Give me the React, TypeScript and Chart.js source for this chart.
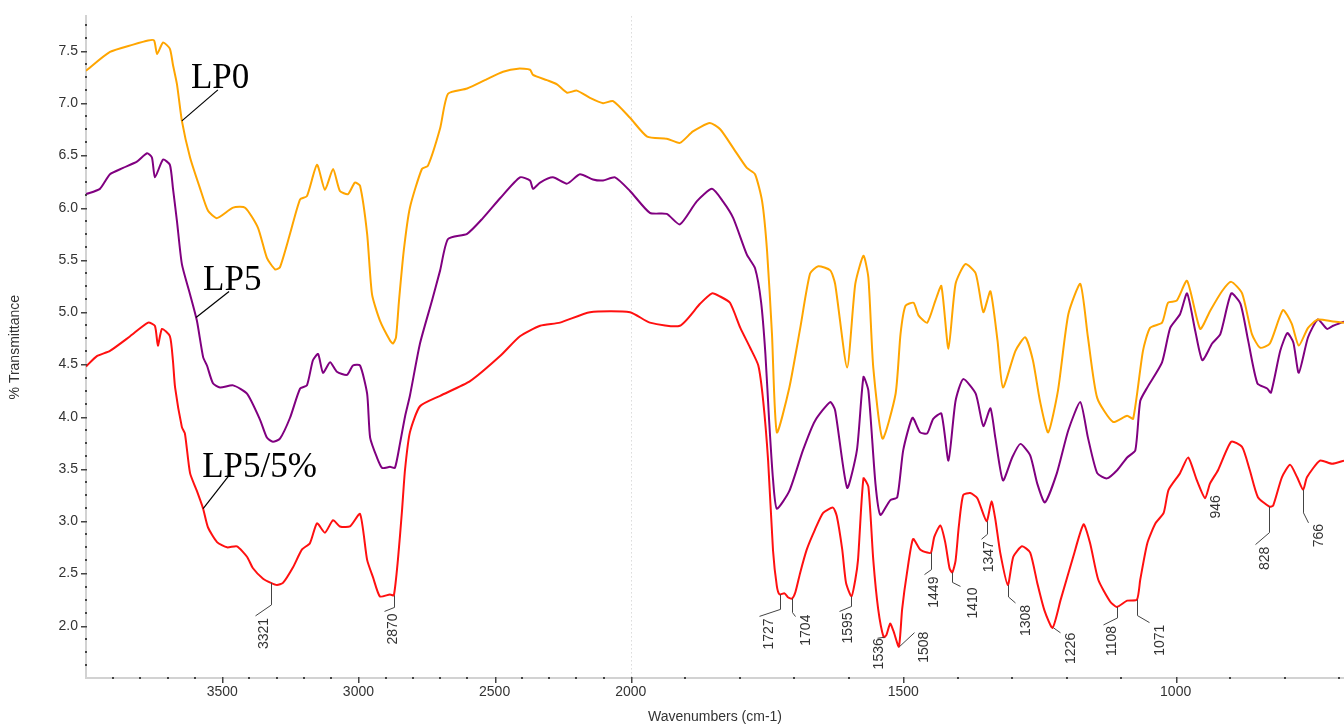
import React, { useEffect, useRef } from 'react';
import {
  Chart,
  LinearScale,
  LineController,
  LineElement,
  PointElement,
} from 'chart.js';

// ---- FTIR spectra: wavenumber (cm-1) and % transmittance (offset traces) ----
const lp0Wn = [4000, 3912, 3827, 3772, 3750, 3739, 3717, 3692, 3681, 3666, 3648, 3618, 3582, 3552, 3519, 3460, 3416, 3369, 3336, 3306, 3288, 3251, 3214, 3189, 3152, 3123, 3093, 3068, 3038, 3013, 2994, 2968, 2950, 2921, 2884, 2873, 2862, 2851, 2833, 2811, 2767, 2745, 2700, 2671, 2601, 2528, 2469, 2414, 2370, 2359, 2308, 2271, 2234, 2198, 2150, 2102, 2065, 2003, 1970, 1934, 1910, 1886, 1855, 1836, 1812, 1787, 1772, 1759, 1750, 1741, 1732, 1709, 1689, 1671, 1656, 1634, 1625, 1603, 1588, 1573, 1564, 1555, 1538, 1514, 1505, 1496, 1481, 1472, 1456, 1441, 1430, 1417, 1404, 1386, 1367, 1353, 1340, 1327, 1317, 1294, 1276, 1262, 1249, 1234, 1216, 1197, 1175, 1161, 1144, 1115, 1089, 1078, 1060, 1047, 1025, 1014, 998, 979, 955, 937, 915, 898, 878, 860, 845, 827, 803, 787, 774, 757, 739, 711, 691];
const lp0T = [7.31, 7.49, 7.56, 7.6, 7.6, 7.47, 7.58, 7.52, 7.37, 7.18, 6.83, 6.48, 6.19, 5.97, 5.9, 6.0, 6.0, 5.81, 5.52, 5.41, 5.43, 5.75, 6.08, 6.11, 6.41, 6.17, 6.37, 6.16, 6.13, 6.24, 6.21, 5.75, 5.17, 4.92, 4.73, 4.7, 4.76, 5.11, 5.6, 6.0, 6.37, 6.4, 6.76, 7.09, 7.14, 7.23, 7.3, 7.33, 7.32, 7.27, 7.22, 7.18, 7.1, 7.12, 7.05, 7.0, 7.02, 6.86, 6.68, 6.66, 6.62, 6.73, 6.81, 6.75, 6.57, 6.38, 6.32, 6.06, 5.59, 4.8, 3.85, 4.28, 4.85, 5.37, 5.44, 5.4, 5.27, 4.47, 5.27, 5.54, 5.33, 4.47, 3.79, 4.22, 4.79, 5.06, 5.09, 4.97, 4.9, 5.11, 5.25, 4.65, 5.27, 5.46, 5.37, 5.0, 5.2, 4.73, 4.28, 4.63, 4.76, 4.54, 4.15, 3.85, 4.25, 4.98, 5.27, 4.76, 4.18, 3.95, 4.01, 3.98, 4.63, 4.85, 4.9, 5.09, 5.11, 5.3, 4.84, 5.01, 5.2, 5.29, 5.18, 4.79, 4.66, 4.7, 5.02, 4.89, 4.68, 4.85, 4.93, 4.91, 4.9];

const lp5Wn = [4000, 3949, 3912, 3864, 3813, 3776, 3758, 3747, 3717, 3692, 3681, 3666, 3648, 3618, 3593, 3570, 3556, 3534, 3508, 3460, 3409, 3361, 3336, 3314, 3288, 3251, 3214, 3189, 3167, 3148, 3130, 3104, 3079, 3042, 3020, 2994, 2968, 2957, 2932, 2913, 2884, 2866, 2847, 2829, 2811, 2774, 2730, 2700, 2671, 2601, 2543, 2480, 2407, 2370, 2359, 2333, 2286, 2234, 2187, 2139, 2102, 2058, 2003, 1965, 1934, 1910, 1879, 1851, 1831, 1812, 1787, 1772, 1761, 1753, 1746, 1739, 1732, 1709, 1684, 1662, 1634, 1625, 1603, 1585, 1573, 1564, 1551, 1542, 1524, 1511, 1500, 1483, 1469, 1456, 1445, 1430, 1417, 1404, 1390, 1367, 1353, 1340, 1331, 1317, 1300, 1285, 1267, 1254, 1240, 1218, 1197, 1175, 1161, 1144, 1126, 1107, 1089, 1074, 1065, 1052, 1025, 1010, 992, 979, 964, 951, 933, 918, 898, 881, 867, 850, 832, 825, 808, 795, 784, 774, 757, 739, 722, 711, 691];
const lp5T = [6.13, 6.18, 6.32, 6.38, 6.44, 6.52, 6.48, 6.29, 6.46, 6.41, 6.19, 5.87, 5.46, 5.17, 4.92, 4.57, 4.49, 4.32, 4.28, 4.3, 4.22, 3.97, 3.8, 3.76, 3.79, 3.99, 4.27, 4.3, 4.54, 4.6, 4.42, 4.52, 4.43, 4.4, 4.49, 4.49, 4.22, 3.8, 3.61, 3.51, 3.52, 3.51, 3.75, 4.0, 4.2, 4.7, 5.11, 5.4, 5.7, 5.75, 5.9, 6.09, 6.29, 6.26, 6.18, 6.24, 6.29, 6.23, 6.32, 6.27, 6.26, 6.29, 6.16, 5.95, 5.94, 5.84, 6.06, 6.18, 6.06, 5.9, 5.55, 5.42, 5.1, 4.6, 3.95, 3.4, 3.12, 3.29, 3.68, 3.96, 4.14, 4.06, 3.32, 3.68, 4.38, 4.25, 3.36, 3.06, 3.2, 3.23, 3.68, 3.99, 3.85, 3.84, 3.98, 4.03, 3.58, 4.15, 4.36, 4.22, 3.91, 4.08, 3.8, 3.39, 3.61, 3.74, 3.63, 3.36, 3.18, 3.46, 3.87, 4.14, 3.8, 3.46, 3.41, 3.49, 3.61, 3.68, 4.15, 4.28, 4.52, 4.85, 4.98, 5.18, 4.82, 4.54, 4.7, 4.79, 5.18, 5.08, 4.73, 4.32, 4.27, 4.23, 4.63, 4.8, 4.71, 4.42, 4.76, 4.93, 4.84, 4.87, 4.91];

const lp55Wn = [4000, 3960, 3912, 3838, 3772, 3747, 3736, 3721, 3692, 3681, 3673, 3648, 3637, 3618, 3593, 3570, 3552, 3519, 3482, 3446, 3409, 3387, 3350, 3321, 3299, 3277, 3240, 3207, 3178, 3152, 3123, 3093, 3068, 3031, 2994, 2968, 2946, 2921, 2884, 2870, 2855, 2840, 2829, 2811, 2774, 2700, 2590, 2480, 2407, 2333, 2260, 2150, 2003, 1965, 1910, 1873, 1851, 1836, 1818, 1799, 1781, 1766, 1757, 1748, 1739, 1732, 1727, 1718, 1711, 1704, 1698, 1689, 1677, 1662, 1647, 1629, 1622, 1612, 1605, 1595, 1588, 1583, 1573, 1564, 1555, 1546, 1536, 1531, 1524, 1518, 1508, 1502, 1493, 1482, 1469, 1456, 1449, 1443, 1432, 1423, 1415, 1410, 1404, 1398, 1390, 1377, 1364, 1347, 1338, 1331, 1322, 1308, 1298, 1282, 1267, 1254, 1241, 1226, 1211, 1188, 1169, 1157, 1142, 1120, 1108, 1089, 1071, 1065, 1052, 1037, 1022, 1013, 992, 977, 961, 946, 937, 922, 898, 878, 864, 849, 828, 821, 805, 790, 777, 766, 759, 735, 713, 691];
const lp55T = [4.48, 4.58, 4.63, 4.77, 4.9, 4.87, 4.68, 4.84, 4.77, 4.54, 4.28, 3.9, 3.84, 3.46, 3.29, 3.12, 2.94, 2.8, 2.75, 2.76, 2.66, 2.55, 2.45, 2.41, 2.39, 2.41, 2.56, 2.73, 2.79, 2.98, 2.89, 3.01, 2.95, 2.95, 3.07, 2.63, 2.46, 2.28, 2.3, 2.29, 2.63, 3.1, 3.49, 3.85, 4.1, 4.2, 4.34, 4.58, 4.77, 4.87, 4.9, 5.0, 5.0, 4.9, 4.87, 5.08, 5.18, 5.15, 5.09, 4.85, 4.66, 4.49, 4.15, 3.58, 2.72, 2.38, 2.3, 2.31, 2.27, 2.26, 2.32, 2.51, 2.73, 2.92, 3.08, 3.13, 3.05, 2.73, 2.41, 2.28, 2.44, 2.63, 3.41, 3.33, 2.63, 2.16, 1.89, 1.91, 2.02, 1.95, 1.8, 2.16, 2.51, 2.83, 2.73, 2.7, 2.7, 2.85, 2.96, 2.8, 2.55, 2.51, 2.62, 2.95, 3.25, 3.27, 3.22, 3.0, 3.19, 3.02, 2.7, 2.39, 2.66, 2.76, 2.7, 2.41, 2.15, 1.98, 2.25, 2.66, 2.97, 2.79, 2.44, 2.23, 2.18, 2.24, 2.25, 2.44, 2.79, 2.98, 3.08, 3.3, 3.46, 3.61, 3.39, 3.22, 3.36, 3.49, 3.76, 3.71, 3.49, 3.23, 3.14, 3.15, 3.42, 3.54, 3.42, 3.3, 3.42, 3.58, 3.55, 3.58];

const seriesNames = ['LP0', 'LP5', 'LP5/5%'];
const seriesLabelWn = [3648, 3596, 3570];
const peakWn = [3321, 2870, 1727, 1704, 1595, 1536, 1508, 1449, 1410, 1347, 1308, 1226, 1108, 1071, 946, 828, 766];

const xMajorTicks = [3500, 3000, 2500, 2000, 1500, 1000];
const yMajorTicks = [2.0, 2.5, 3.0, 3.5, 4.0, 4.5, 5.0, 5.5, 6.0, 6.5, 7.0, 7.5];
const xRange = [691, 4000];
const yRange = [1.5, 7.83];

// ---- styling ----
const colors = ['#FFA500', '#800080', '#FF1010'];
const SANS = '"Liberation Sans", Arial, sans-serif';
const SERIF = '"Liberation Serif", "Times New Roman", serif';
const INK = '#333333';

// pixel layout of the name callouts: leader end (lx, ly) and text origin (tx, ty) relative to the curve point
const nameLayout = [
  { lx: 36, ly: -31, tx: 9, ty: -33 },
  { lx: 33, ly: -26, tx: 7, ty: -27 },
  { lx: 25, ly: -32, tx: -1, ty: -32 },
];
// pixel layout of the band labels: vertical drop v, elbow end d, text centre/top t
const peakLayout = [
  { v: 22, d: [-16, 33], t: [-7, 35] },
  { v: 12, d: [-10, 16], t: [-1, 18] },
  { v: 15, d: [-21, 22], t: [-11, 24] },
  { v: 14, d: [3, 18], t: [14, 16] },
  { v: 10, d: [-12, 15], t: [-3, 16] },
  { v: 0, d: [-7, 1], t: [-5, 1] },
  { v: 0, d: [15, -14], t: [25, -15] },
  { v: 17, d: [-7, 22], t: [3, 24] },
  { v: 10, d: [8, 14], t: [21, 15] },
  { v: 13, d: [-6, 18], t: [2, 20] },
  { v: 12, d: [7, 18], t: [18, 20] },
  { v: 0, d: [7, 5], t: [18, 5] },
  { v: 11, d: [-14, 18], t: [-5, 19] },
  { v: 16, d: [12, 23], t: [23, 25] },
  null,
  { v: 26, d: [-14, 38], t: [-4, 40] },
  { v: 23, d: [5, 33], t: [16, 34] },
];
const peakTextShift946 = [11, -3];

// Wavenumber axis with the region below 2000 cm-1 drawn at twice the scale.
const BREAK_WN = 2000;
const LOW_EXPANSION = 2;

class SplitWavenumberScale extends LinearScale {
  static id = 'splitWavenumber';
  static defaults = LinearScale.defaults;
  warp(v: number) {
    return v >= BREAK_WN ? v - BREAK_WN : LOW_EXPANSION * (v - BREAK_WN);
  }
  unwarp(u: number) {
    return u >= 0 ? u + BREAK_WN : u / LOW_EXPANSION + BREAK_WN;
  }
  getPixelForValue(value: number) {
    const hi = this.warp(this.max);
    const lo = this.warp(this.min);
    return this.left + ((hi - this.warp(value)) / (hi - lo)) * this.width;
  }
  getValueForPixel(pixel: number) {
    const hi = this.warp(this.max);
    const lo = this.warp(this.min);
    return this.unwarp(hi - ((pixel - this.left) / this.width) * (hi - lo));
  }
}

Chart.register(LineController, LineElement, PointElement, LinearScale, SplitWavenumberScale);

function valueAt(wns: number[], vals: number[], wn: number) {
  for (let i = 0; i < wns.length - 1; i++) {
    const a = wns[i];
    const b = wns[i + 1];
    if ((wn <= a && wn >= b) || (wn >= a && wn <= b)) {
      const f = a === b ? 0 : (wn - a) / (b - a);
      return vals[i] + f * (vals[i + 1] - vals[i]);
    }
  }
  return vals[vals.length - 1];
}

const spectra = [
  { wn: lp0Wn, t: lp0T },
  { wn: lp5Wn, t: lp5T },
  { wn: lp55Wn, t: lp55T },
];

const axisDecor = {
  id: 'axisDecor',
  beforeDatasetsDraw(chart: any) {
    const { ctx, chartArea, scales } = chart;
    const x = Math.round(scales.x.getPixelForValue(BREAK_WN)) + 0.5;
    ctx.save();
    ctx.strokeStyle = '#c8c8c8';
    ctx.lineWidth = 1;
    ctx.setLineDash([1, 3]);
    ctx.beginPath();
    ctx.moveTo(x, chartArea.top);
    ctx.lineTo(x, chartArea.bottom);
    ctx.stroke();
    ctx.restore();
  },
  afterDraw(chart: any) {
    const { ctx, chartArea, scales } = chart;
    const xs = scales.x;
    const ys = scales.y;
    ctx.save();
    ctx.fillStyle = '#444';
    // x minor dots every 100 cm-1, major marks at labelled ticks
    for (let w = 3900; w >= 700; w -= 100) {
      const px = Math.round(xs.getPixelForValue(w));
      if (xMajorTicks.includes(w)) {
        ctx.fillRect(px, chartArea.bottom - 1, 1.5, 6);
      } else {
        ctx.fillRect(px - 1, chartArea.bottom - 1, 2, 2);
      }
    }
    // y minor dots every 0.125, major dashes at labelled ticks
    for (let v = 1.625; v <= yRange[1]; v += 0.125) {
      const py = Math.round(ys.getPixelForValue(v));
      const isMajor = yMajorTicks.some((m) => Math.abs(m - v) < 1e-6);
      if (isMajor) {
        ctx.fillRect(chartArea.left - 5, py, 6, 1.5);
      } else {
        ctx.fillRect(chartArea.left - 1, py - 1, 2, 2);
      }
    }
    ctx.restore();
  },
};

const callouts = {
  id: 'callouts',
  afterDatasetsDraw(chart: any) {
    const { ctx, scales } = chart;
    const xs = scales.x;
    const ys = scales.y;
    ctx.save();

    // series names with leader lines
    ctx.strokeStyle = '#000';
    ctx.fillStyle = '#000';
    ctx.lineWidth = 1.2;
    ctx.font = `35px ${SERIF}`;
    ctx.textAlign = 'left';
    ctx.textBaseline = 'alphabetic';
    seriesNames.forEach((name, i) => {
      const s = spectra[i];
      const ax = xs.getPixelForValue(seriesLabelWn[i]);
      const ay = ys.getPixelForValue(valueAt(s.wn, s.t, seriesLabelWn[i]));
      const L = nameLayout[i];
      ctx.beginPath();
      ctx.moveTo(ax, ay);
      ctx.lineTo(ax + L.lx, ay + L.ly);
      ctx.stroke();
      ctx.fillText(name, ax + L.tx, ay + L.ty);
    });

    // band positions on the LP5/5% trace
    const red = spectra[2];
    ctx.strokeStyle = '#444';
    ctx.fillStyle = INK;
    ctx.lineWidth = 1;
    ctx.font = `14px ${SANS}`;
    peakWn.forEach((wn, i) => {
      const ax = Math.round(xs.getPixelForValue(wn)) + 0.5;
      const ay = ys.getPixelForValue(valueAt(red.wn, red.t, wn));
      const L = peakLayout[i];
      let tx: number;
      let ty: number;
      if (L) {
        ctx.beginPath();
        ctx.moveTo(ax, ay);
        ctx.lineTo(ax, ay + L.v);
        ctx.lineTo(ax + L.d[0], ay + L.d[1]);
        ctx.stroke();
        tx = ax + L.t[0];
        ty = ay + L.t[1];
      } else {
        tx = ax + peakTextShift946[0];
        ty = ay + peakTextShift946[1];
      }
      ctx.save();
      ctx.translate(tx, ty);
      ctx.rotate(-Math.PI / 2);
      ctx.textAlign = 'right';
      ctx.textBaseline = 'middle';
      ctx.fillText(String(wn), 0, 0);
      ctx.restore();
    });
    ctx.restore();
  },
};

export default function App() {
  const canvasRef = useRef<HTMLCanvasElement | null>(null);

  useEffect(() => {
    const canvas = canvasRef.current;
    if (!canvas) return;
    const datasets = spectra.map((s, i) => ({
      label: seriesNames[i],
      data: s.wn.map((w, k) => ({ x: w, y: s.t[k] })),
      borderColor: colors[i],
      borderWidth: 2,
      pointRadius: 0,
      tension: 0.2,
      fill: false,
    }));
    const chart = new Chart(canvas, {
      type: 'line',
      data: { datasets },
      options: {
        animation: false,
        responsive: false,
        events: [],
        layout: { padding: { top: 15, right: 0, bottom: 0, left: 0 } },
        plugins: { legend: { display: false }, tooltip: { enabled: false } },
        scales: {
          x: {
            type: 'splitWavenumber',
            min: xRange[0],
            max: xRange[1],
            afterBuildTicks: (s: any) => {
              s.ticks = xMajorTicks.map((v) => ({ value: v }));
            },
            afterFit: (s: any) => {
              s.height = 48;
            },
            grid: { display: false, drawTicks: false },
            border: { display: true, color: '#d2d2d2', width: 2 },
            ticks: {
              autoSkip: false,
              maxRotation: 0,
              padding: 6,
              color: INK,
              font: { family: SANS, size: 14 },
              callback: (v: any) => String(v),
            },
            title: {
              display: true,
              text: 'Wavenumbers (cm-1)',
              color: INK,
              font: { family: SANS, size: 14 },
              padding: { top: 0, bottom: 0 },
            },
          } as any,
          y: {
            type: 'linear',
            min: yRange[0],
            max: yRange[1],
            afterBuildTicks: (s: any) => {
              s.ticks = yMajorTicks.map((v) => ({ value: v }));
            },
            afterFit: (s: any) => {
              s.width = 86;
            },
            grid: { display: false, drawTicks: false },
            border: { display: true, color: '#d2d2d2', width: 2 },
            ticks: {
              autoSkip: false,
              padding: 8,
              color: INK,
              font: { family: SANS, size: 14 },
              callback: (v: any) => Number(v).toFixed(1),
            },
            title: {
              display: true,
              text: '% Transmittance',
              color: INK,
              font: { family: SANS, size: 14 },
              padding: { top: 7, bottom: 0 },
            },
          },
        },
      },
      plugins: [axisDecor, callouts],
    } as any);
    return () => chart.destroy();
  }, []);

  return (
    <div
      style={{
        position: 'fixed',
        left: 0,
        top: 0,
        width: 1344,
        height: 726,
        background: '#ffffff',
        overflow: 'hidden',
      }}
    >
      <canvas ref={canvasRef} width={1344} height={726} style={{ display: 'block' }} />
    </div>
  );
}
